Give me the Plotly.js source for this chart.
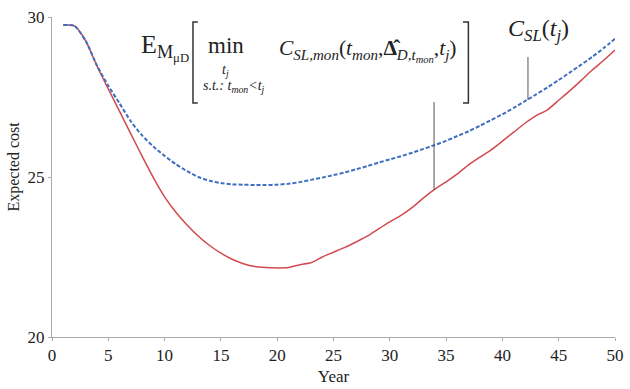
<!DOCTYPE html>
<html>
<head>
<meta charset="utf-8">
<script src="https://cdn.plot.ly/plotly-3.0.1.min.js"></script>
<style>html,body{margin:0;padding:0;background:#fff;}#chart{width:630px;height:389px;}</style>
</head>
<body>
<div id="chart"></div>
<script>
const years = [1,2,3,4,5,6,7,8,9,10,11,12,13,14,15,16,17,18,19,20,21,22,23,24,25,26,27,28,29,30,31,32,33,34,35,36,37,38,39,40,41,42,43,44,45,46,47,48,49,50];
const costDashed = [29.75,29.72,29.25,28.48,27.85,27.30,26.74,26.30,25.95,25.66,25.40,25.18,25.00,24.88,24.81,24.77,24.76,24.75,24.75,24.76,24.79,24.84,24.91,24.98,25.06,25.14,25.24,25.34,25.45,25.55,25.65,25.76,25.88,26.00,26.13,26.28,26.43,26.60,26.78,26.96,27.16,27.37,27.58,27.80,28.03,28.27,28.51,28.76,29.03,29.32];
const costSolid = [29.75,29.72,29.25,28.46,27.75,27.05,26.35,25.65,24.98,24.38,23.90,23.50,23.15,22.86,22.62,22.43,22.29,22.20,22.17,22.16,22.17,22.26,22.32,22.50,22.65,22.80,22.97,23.15,23.38,23.60,23.80,24.05,24.35,24.62,24.85,25.10,25.38,25.62,25.85,26.12,26.40,26.68,26.92,27.10,27.40,27.70,28.02,28.35,28.65,28.97];
const xTicks = [0,5,10,15,20,25,30,35,40,45,50];
const yTicks = [20,25,30];
const yTitle = 'Expected cost';
const xTitle = 'Year';

const serif = 'Liberation Serif';
const traces = [
  {x: years, y: costSolid, type: 'scatter', mode: 'lines', line: {color: '#d24a4d', width: 1.5, shape: 'spline', smoothing: 0.6}, hoverinfo: 'none'},
  {x: years, y: costDashed, type: 'scatter', mode: 'lines', line: {color: '#3f6fbf', width: 2, dash: '4px,2px', shape: 'spline', smoothing: 0.6}, hoverinfo: 'none'}
];
const gray = '#555';
const txt = '#222';
const layout = {
  width: 630, height: 389,
  margin: {l: 52, r: 15, t: 17, b: 52},
  paper_bgcolor: '#fff', plot_bgcolor: '#fff',
  showlegend: false,
  font: {family: serif, color: txt, size: 17},
  xaxis: {range: [0, 50], tickvals: xTicks, ticktext: xTicks.map(String), showgrid: false, zeroline: false, showline: true, linecolor: '#aaa', linewidth: 1,
          ticks: 'outside', ticklen: 3, tickcolor: '#aaa', tickfont: {family: serif, size: 17, color: txt},
          title: {text: xTitle, font: {family: serif, size: 17, color: txt}, standoff: 5}},
  yaxis: {range: [20, 30], tickvals: yTicks, ticktext: yTicks.map(String), showgrid: false, zeroline: false, showline: true, linecolor: '#aaa', linewidth: 1,
          ticks: 'outside', ticklen: 3, tickcolor: '#aaa', tickfont: {family: serif, size: 17, color: txt}},
  shapes: [
    {type: 'line', x0: 33.93, x1: 33.93, y0: 27.34, y1: 24.59, line: {color: gray, width: 1}},
    {type: 'line', x0: 42.27, x1: 42.27, y0: 28.75, y1: 27.41, line: {color: gray, width: 1}},
    {type: 'path', path: 'M 12.95,29.84 L 12.52,29.84 L 12.52,27.31 L 12.95,27.31', line: {color: '#333', width: 1.5}},
    {type: 'path', path: 'M 36.5,29.84 L 36.98,29.84 L 36.98,27.31 L 36.5,27.31', line: {color: '#333', width: 1.5}}
  ],
  annotations: [
    {x: -0.0667, y: 0.534, xref: 'paper', yref: 'paper', xanchor: 'center', yanchor: 'middle', textangle: -90, showarrow: false,
     text: yTitle, font: {family: serif, size: 16, color: txt}},
    {x: 12.3, y: 29.05, xref: 'x', yref: 'y', xanchor: 'right', showarrow: false,
     text: 'E<sub>M<sub>μD</sub></sub>', font: {family: serif, size: 26, color: txt}},
    {x: 15.43, y: 29.1, xref: 'x', yref: 'y', xanchor: 'center', showarrow: false,
     text: 'min', font: {family: serif, size: 23, color: txt}},
    {x: 15.43, y: 28.33, xref: 'x', yref: 'y', xanchor: 'center', showarrow: false,
     text: '<i>t<sub>j</sub></i>', font: {family: serif, size: 14, color: txt}},
    {x: 16.14, y: 27.82, xref: 'x', yref: 'y', xanchor: 'center', showarrow: false,
     text: '<i>s.t.: t<sub>mon</sub>&lt;t<sub>j</sub></i>', font: {family: serif, size: 14, color: txt}},
    {x: 28.1, y: 28.95, xref: 'x', yref: 'y', xanchor: 'center', showarrow: false,
     text: '<i>C<sub>SL,mon</sub></i>(<i>t<sub>mon</sub></i>,<b>Δ̂</b><sub><i>D,t<sub>mon</sub></i></sub>,<i>t<sub>j</sub></i>)', font: {family: serif, size: 21.5, color: txt}},
    {x: 43.18, y: 29.6, xref: 'x', yref: 'y', xanchor: 'center', showarrow: false,
     text: '<i>C<sub>SL</sub></i>(<i>t<sub>j</sub></i>)', font: {family: serif, size: 24, color: txt}}
  ]
};
Plotly.newPlot('chart', traces, layout, {staticPlot: true, displayModeBar: false});
</script>
</body>
</html>
